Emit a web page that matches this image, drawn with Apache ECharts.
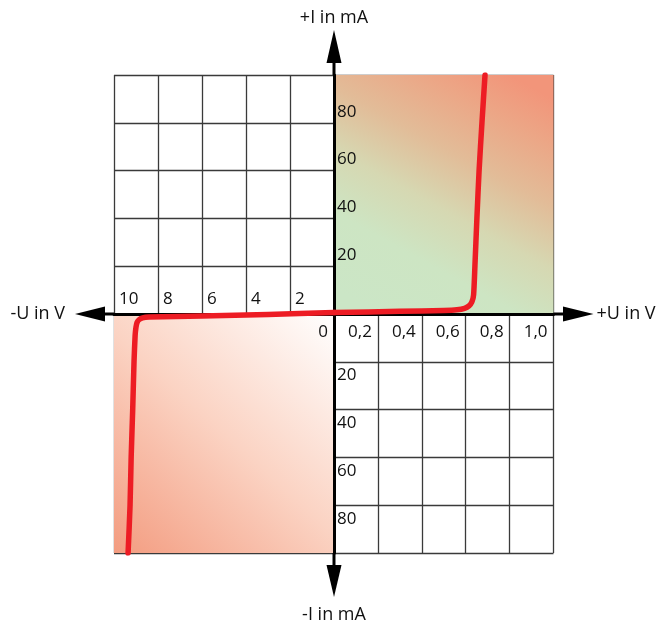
<!DOCTYPE html>
<html>
<head>
<meta charset="utf-8">
<title>Diode characteristic</title>
<script src="https://cdn.jsdelivr.net/npm/echarts@6/dist/echarts.min.js"></script>
<style>
  html, body { margin: 0; padding: 0; background: #fff; }
  #chart { width: 660px; height: 622px; }
</style>
</head>
<body>
<div id="chart"></div>
<script>
// reverse branch (-U in V, I in mA)
const revU = [-9.36, -9.27, -9.22, -9.15, -9.09, -9.04, -9.0, -8.95, -8.85, -8.7, -8.4, -6, -3, 0];
const revI = [-100, -80, -60, -40, -20, -9, -5.5, -3.5, -2.3, -1.6, -1.3, -0.8, -0.2, 0.6];
// forward branch (+U in V, I in mA)
const fwdU = [0, 0.3, 0.5, 0.56, 0.595, 0.615, 0.628, 0.636, 0.642, 0.651, 0.661, 0.674, 0.688];
const fwdI = [0.6, 1.1, 1.5, 1.8, 2.4, 3.4, 5, 8, 20, 40, 60, 80, 100];

// tick labels
const revTickLabels = ['10', '8', '6', '4', '2', ''];          // -10 .. 0, step 2
const fwdTickLabels = ['0', '0,2', '0,4', '0,6', '0,8', '1,0']; // 0 .. 1, step 0.2
const currentTickLabels = ['', '20', '40', '60', '80', ''];    // |I| 0 .. 100, step 20

const chart = echarts.init(document.getElementById('chart'));

const font = 'Open Sans';
const gridTop = 75, gridBottom = 69;
const plotH = 622 - gridTop - gridBottom;
const gridLine = { show: true, lineStyle: { color: '#3a3a3a', width: 1.3 } };
const mainAxis = { show: true, onZero: false, lineStyle: { color: '#000', width: 3 } };
const nameStyle = { fontFamily: font, fontSize: 18, color: '#111' };

const option = {
  animation: false,
  // links: negativer Bereich, rechts: positiver Bereich
  grid: [
    { left: 114, right: 326, top: gridTop, bottom: gridBottom, outerBoundsMode: 'none' },
    { left: 334, right: 106.5, top: gridTop, bottom: gridBottom, outerBoundsMode: 'none' }
  ],
  xAxis: [
    {
      gridIndex: 0, type: 'value', min: -10, max: 0, interval: 2, z: 1,
      position: 'bottom', offset: -plotH / 2, // Achse liegt bei I = 0
      axisLine: mainAxis,
      axisTick: { show: false },
      splitLine: gridLine,
      axisLabel: {
        inside: true, align: 'left', margin: 6, padding: [0, 0, 0, 5],
        fontFamily: font, fontSize: 17, color: '#111',
        showMinLabel: true, showMaxLabel: true,
        formatter: v => revTickLabels[Math.round((v + 10) / 2)] || ''
      },
      name: '-U in V', nameLocation: 'start', nameGap: 49, nameTextStyle: nameStyle
    },
    {
      gridIndex: 1, type: 'value', min: 0, max: 1, interval: 0.2, z: 1,
      position: 'bottom', offset: -plotH / 2,
      axisLine: mainAxis,
      axisTick: { show: false },
      splitLine: gridLine,
      axisLabel: {
        align: 'right', margin: 10, padding: [0, 6, 0, 0],
        fontFamily: font, fontSize: 17, color: '#111',
        showMinLabel: true, showMaxLabel: true,
        formatter: v => fwdTickLabels[Math.round(v / 0.2)] || ''
      },
      name: '+U in V', nameLocation: 'end', nameGap: 43, nameTextStyle: nameStyle
    }
  ],
  yAxis: [
    {
      gridIndex: 0, type: 'value', min: -100, max: 100, interval: 20, z: 1,
      position: 'right',
      axisLine: { show: false },
      axisTick: { show: false },
      axisLabel: { show: false },
      splitLine: gridLine,
      name: '-I in mA', nameLocation: 'start', nameGap: 53, nameTextStyle: nameStyle
    },
    {
      gridIndex: 1, type: 'value', min: -100, max: 100, interval: 20, z: 1,
      position: 'left',
      axisLine: mainAxis,
      axisTick: { show: false },
      splitLine: gridLine,
      axisLabel: {
        inside: true, margin: 3,
        formatter: v => {
          const s = currentTickLabels[Math.round(Math.abs(v) / 20)] || '';
          if (!s) return '';
          return v > 0 ? '{t|' + s + '}' : '{b|' + s + '}';
        },
        rich: {
          t: { fontFamily: font, fontSize: 17, color: '#111', padding: [0, 0, 22, 0] },
          b: { fontFamily: font, fontSize: 17, color: '#111', padding: [27, 0, 0, 0] }
        }
      },
      name: '+I in mA', nameLocation: 'end', nameGap: 48, nameTextStyle: nameStyle
    }
  ],
  series: [
    // Hintergrund Sperrbereich
    {
      type: 'line', xAxisIndex: 0, yAxisIndex: 0, data: [], z: 0, silent: true,
      markArea: {
        silent: true,
        itemStyle: {
          opacity: 1,
          color: new echarts.graphic.LinearGradient(1, 0, 0, 1, [
            { offset: 0, color: '#ffffff' },
            { offset: 0.5, color: '#fbd3c3' },
            { offset: 1, color: '#f39c80' }
          ])
        },
        data: [[{ xAxis: -10, yAxis: -100 }, { xAxis: 0, yAxis: 0 }]]
      }
    },
    // Hintergrund Durchlassbereich
    {
      type: 'line', xAxisIndex: 1, yAxisIndex: 1, data: [], z: 0, silent: true,
      markArea: {
        silent: true,
        itemStyle: {
          opacity: 1,
          color: new echarts.graphic.LinearGradient(0.2, 1, 0.8, 0, [
            { offset: 0, color: '#cbe6c6' },
            { offset: 0.25, color: '#cde5c3' },
            { offset: 0.45, color: '#d6d8b2' },
            { offset: 0.65, color: '#e2bc98' },
            { offset: 0.85, color: '#eca686' },
            { offset: 1, color: '#f2957a' }
          ])
        },
        data: [[{ xAxis: 0, yAxis: 0 }, { xAxis: 1, yAxis: 100 }]]
      }
    },
    {
      name: 'reverse', type: 'line', xAxisIndex: 0, yAxisIndex: 0, z: 3,
      data: revU.map((u, i) => [u, revI[i]]),
      showSymbol: false, smooth: 0.2,
      lineStyle: { color: '#ed1c24', width: 5.5, cap: 'round', join: 'round' }
    },
    {
      name: 'forward', type: 'line', xAxisIndex: 1, yAxisIndex: 1, z: 3,
      data: fwdU.map((u, i) => [u, fwdI[i]]),
      showSymbol: false, smooth: 0.2,
      lineStyle: { color: '#ed1c24', width: 5.5, cap: 'round', join: 'round' }
    }
  ]
};

chart.setOption(option);

// Pfeile an den Achsenenden
const o = chart.convertToPixel({ gridIndex: 1 }, [0, 0]);
const xl = chart.convertToPixel({ gridIndex: 0 }, [-10, 0])[0];
const xr = chart.convertToPixel({ gridIndex: 1 }, [1, 0])[0];
const yt = chart.convertToPixel({ gridIndex: 1 }, [0, 100])[1];
const yb = chart.convertToPixel({ gridIndex: 1 }, [0, -100])[1];
const stroke = { stroke: '#000', lineWidth: 3 };
chart.setOption({
  graphic: [
    { type: 'line', shape: { x1: xl - 10, y1: o[1], x2: xl, y2: o[1] }, style: stroke, z: 5 },
    { type: 'line', shape: { x1: xr, y1: o[1], x2: xr + 10, y2: o[1] }, style: stroke, z: 5 },
    { type: 'line', shape: { x1: o[0], y1: yt - 13, x2: o[0], y2: yt }, style: stroke, z: 5 },
    { type: 'line', shape: { x1: o[0], y1: yb, x2: o[0], y2: yb + 13 }, style: stroke, z: 5 },
    { type: 'polygon', shape: { points: [[xl - 39, o[1]], [xl - 9, o[1] - 7.5], [xl - 9, o[1] + 7.5]] }, style: { fill: '#000' }, z: 5 },
    { type: 'polygon', shape: { points: [[xr + 40, o[1]], [xr + 9.5, o[1] - 7.5], [xr + 9.5, o[1] + 7.5]] }, style: { fill: '#000' }, z: 5 },
    { type: 'polygon', shape: { points: [[o[0], yt - 45], [o[0] - 7.5, yt - 12], [o[0] + 7.5, yt - 12]] }, style: { fill: '#000' }, z: 5 },
    { type: 'polygon', shape: { points: [[o[0], yb + 44], [o[0] - 7.5, yb + 12], [o[0] + 7.5, yb + 12]] }, style: { fill: '#000' }, z: 5 }
  ]
});

window.addEventListener('resize', function () {
  chart.resize();
});
</script>
</body>
</html>
